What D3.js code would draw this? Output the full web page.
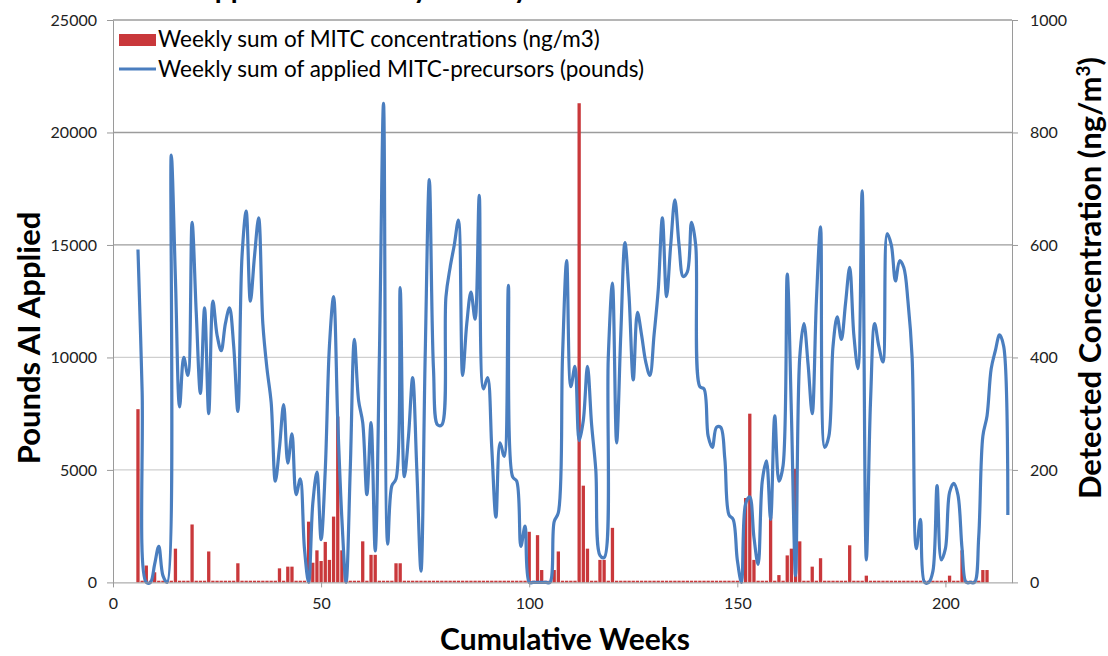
<!doctype html>
<html>

<head>
  <style>
    body { margin: 0; background: #fff; }
    text { font-family: Lato, "Open Sans", sans-serif; }
    .tick text { font-size: 16px; fill: #222; }
    .axis path, .axis line { stroke: #9a9a9a; }
  </style>
  <script src="https://d3js.org/d3.v7.min.js"></script>
</head>

<body>
<svg width="1108" height="656"></svg>
<script>
  // week number of the first entry in each series
  var firstWeek = 1;

  // weekly sum of applied MITC-precursors (pounds), weeks 1..215
  var pounds = [
    null, null, null, null, null,
    14800, 8500, 0, 0, 800, 1600, 300, 0, 19000, 13500,
    7800, 10000, 9200, 16000, 12000, 8400, 12200, 7500, 12500, 11000,
    10300, 11500, 12200, 10500, 7600, 14500, 16500, 12500, 14500, 16200,
    11500, 9500, 8000, 4500, 6000, 7900, 5300, 6600, 3900, 4600,
    1500, 0, 3500, 4900, 1900, 5000, 10500, 12700, 7200, 2800,
    0, 5000, 10800, 8100, 7100, 3900, 7100, 1400, 10000, 21300,
    1700, 4300, 4600, 13100, 4700, 6500, 9100, 5000, 500, 10000,
    17900, 9500, 7000, 7000, 12700, 14000, 15000, 16100, 9200, 11500,
    12900, 11700, 17200, 8600, 9100, 6000, 2900, 6200, 5600, 13200,
    4700, 4500, 1600, 2500, 0, 0, 0, 0, 0, 0,
    2700, 3100, 10000, 14300, 8700, 9600, 6300, 7200, 9600, 7000,
    5000, 1200, 1100, 10000, 13300, 6200, 11000, 15100, 12700, 9000,
    12000, 11000, 9800, 9200, 11000, 13000, 16200, 12700, 15000, 17000,
    15000, 13600, 13800, 16000, 15000, 8700, 8600, 6500, 6000, 6900,
    6900, 5500, 3000, 2800, 1000, 0, 3500, 3800, 2000, 800,
    4500, 5400, 2800, 7400, 4500, 5200, 13700, 7500, 300, 10000,
    11500, 9700, 7500, 12500, 15800, 6000, 6500, 10500, 11800, 10800,
    12400, 14000, 11000, 9500, 17400, 1000, 8000, 11500, 10500, 9800,
    15500, 15000, 13400, 14300, 14000, 12500, 10000, 1500, 2800, 0,
    0, 500, 4300, 1000, 1500, 4000, 4400, 3900, 1500, 0,
    0, 0, 2000, 6500, 7400, 9500, 10300, 11000, 10500, 3000
  ];

  // weekly sum of MITC concentrations (ng/m3), weeks 1..215
  var concentrations = [
    0, 0, 0, 0, 0,
    308, 3, 30, 3, 18, 3, 3, 3, 3, 60,
    3, 3, 3, 103, 3, 3, 3, 55, 3, 3,
    3, 3, 3, 3, 34, 3, 3, 3, 3, 3,
    3, 3, 3, 3, 25, 3, 28, 28, 3, 3,
    3, 108, 35, 57, 38, 72, 40, 117, 295, 57,
    32, 3, 3, 3, 73, 3, 49, 49, 3, 3,
    3, 3, 34, 34, 3, 3, 3, 3, 3, 3,
    3, 3, 3, 3, 3, 3, 3, 3, 3, 3,
    3, 3, 3, 3, 3, 3, 3, 3, 3, 3,
    3, 3, 3, 3, 90, 3, 84, 22, 3, 3,
    22, 55, 3, 3, 3, 3, 852, 172, 60, 3,
    3, 40, 40, 3, 97, 3, 3, 3, 3, 3,
    3, 3, 3, 3, 3, 3, 3, 3, 3, 3,
    3, 3, 3, 3, 3, 3, 3, 3, 3, 3,
    3, 3, 3, 3, 3, 3, 150, 300, 40, 3,
    3, 3, 117, 3, 13, 3, 48, 60, 202, 73,
    3, 3, 28, 3, 43, 3, 3, 3, 3, 3,
    3, 66, 3, 3, 3, 12, 3, 3, 3, 3,
    3, 3, 3, 3, 3, 3, 3, 3, 3, 3,
    3, 3, 3, 3, 3, 12, 3, 3, 57, 3,
    3, 3, 3, 22, 22
  ];

  var xTicks = [0, 50, 100, 150, 200];
  var leftTicks = [0, 5000, 10000, 15000, 20000, 25000];
  var rightTicks = [0, 200, 400, 600, 800, 1000];

  var barName = "Weekly sum of MITC concentrations (ng/m3)";
  var lineName = "Weekly sum of applied MITC-precursors (pounds)";

  var svg = d3.select("svg"),
    plotLeft = 113, plotRight = 1012, plotTop = 20, plotBottom = 582.4;

  var x = d3.scaleLinear().domain([0, 216]).range([plotLeft, plotRight]);
  var yL = d3.scaleLinear().domain([0, 25000]).range([plotBottom, plotTop]);
  var yR = d3.scaleLinear().domain([0, 1000]).range([plotBottom, plotTop]);

  var lineData = pounds.map(function (v, i) { return { week: firstWeek + i, value: v }; });
  var barData = concentrations.map(function (v, i) { return { week: firstWeek + i, value: v }; })
    .filter(function (d) { return d.value > 0; });

  // title, cut off by the top edge as in the source picture
  svg.append("text")
    .attr("x", 545)
    .attr("y", -2)
    .attr("text-anchor", "middle")
    .attr("font-size", "28px")
    .attr("font-weight", "bold")
    .text("Applied Pounds by Weekly Sum of MITC Concentrations");

  // gridlines
  svg.append("g")
    .selectAll("line")
    .data(leftTicks.slice(1))
    .enter().append("line")
    .attr("x1", plotLeft)
    .attr("x2", plotRight)
    .attr("y1", function (d) { return yL(d); })
    .attr("y2", function (d) { return yL(d); })
    .attr("stroke", function (d) { return d >= 15000 ? "#9c9c9c" : "#cfcfcf"; })
    .attr("stroke-width", 1.3);

  // bars on the right axis
  var bw = 3.3;
  svg.append("g")
    .selectAll("rect")
    .data(barData)
    .enter().append("rect")
    .attr("x", function (d) { return x(d.week) - bw / 2; })
    .attr("y", function (d) { return yR(d.value); })
    .attr("width", bw)
    .attr("height", function (d) { return yR(0) - yR(d.value); })
    .attr("fill", "#c9383b");

  // smoothed line on the left axis
  var line = d3.line()
    .defined(function (d) { return d.value !== null; })
    .x(function (d) { return x(d.week); })
    .y(function (d) { return yL(d.value); })
    .curve(d3.curveCatmullRom.alpha(0.5));

  svg.append("path")
    .datum(lineData)
    .attr("fill", "none")
    .attr("stroke", "#4a7ebf")
    .attr("stroke-width", 3.2)
    .attr("stroke-linejoin", "round")
    .attr("d", line);

  // axes
  svg.append("g")
    .attr("class", "axis")
    .attr("transform", "translate(0," + plotBottom + ")")
    .call(d3.axisBottom(x).tickValues(xTicks).tickSize(5).tickSizeOuter(0).tickPadding(10));

  svg.append("g")
    .attr("class", "axis")
    .attr("transform", "translate(" + plotLeft + ",0)")
    .call(d3.axisLeft(yL).tickValues(leftTicks).tickFormat(d3.format("d")).tickSize(6).tickSizeOuter(0).tickPadding(10));

  svg.append("g")
    .attr("class", "axis")
    .attr("transform", "translate(" + plotRight + ",0)")
    .call(d3.axisRight(yR).tickValues(rightTicks).tickFormat(d3.format("d")).tickSize(6).tickSizeOuter(0).tickPadding(12));

  // axis titles
  svg.append("text")
    .attr("x", 565)
    .attr("y", 650)
    .attr("text-anchor", "middle")
    .attr("font-size", "30px")
    .attr("font-weight", "bold")
    .text("Cumulative Weeks");

  svg.append("text")
    .attr("transform", "translate(40,338) rotate(-90)")
    .attr("text-anchor", "middle")
    .attr("font-size", "31px")
    .attr("font-weight", "bold")
    .text("Pounds AI Applied");

  var rt = svg.append("text")
    .attr("transform", "translate(1101,278) rotate(-90)")
    .attr("text-anchor", "middle")
    .attr("font-size", "31px")
    .attr("font-weight", "bold");
  rt.append("tspan").text("Detected Concentration (ng/m");
  rt.append("tspan").attr("baseline-shift", "super").attr("font-size", "19px").text("3");
  rt.append("tspan").text(")");

  // legend
  var legend = svg.append("g").attr("transform", "translate(119,0)");
  legend.append("rect")
    .attr("x", 0).attr("y", 34).attr("width", 37).attr("height", 12)
    .attr("fill", "#c9383b");
  legend.append("text")
    .attr("x", 39).attr("y", 47)
    .attr("font-size", "22.5px")
    .text(barName);
  legend.append("line")
    .attr("x1", 0).attr("x2", 37).attr("y1", 69).attr("y2", 69)
    .attr("stroke", "#4a7ebf").attr("stroke-width", 3);
  legend.append("text")
    .attr("x", 39).attr("y", 77)
    .attr("font-size", "22.5px")
    .text(lineName);
</script>
</body>

</html>
